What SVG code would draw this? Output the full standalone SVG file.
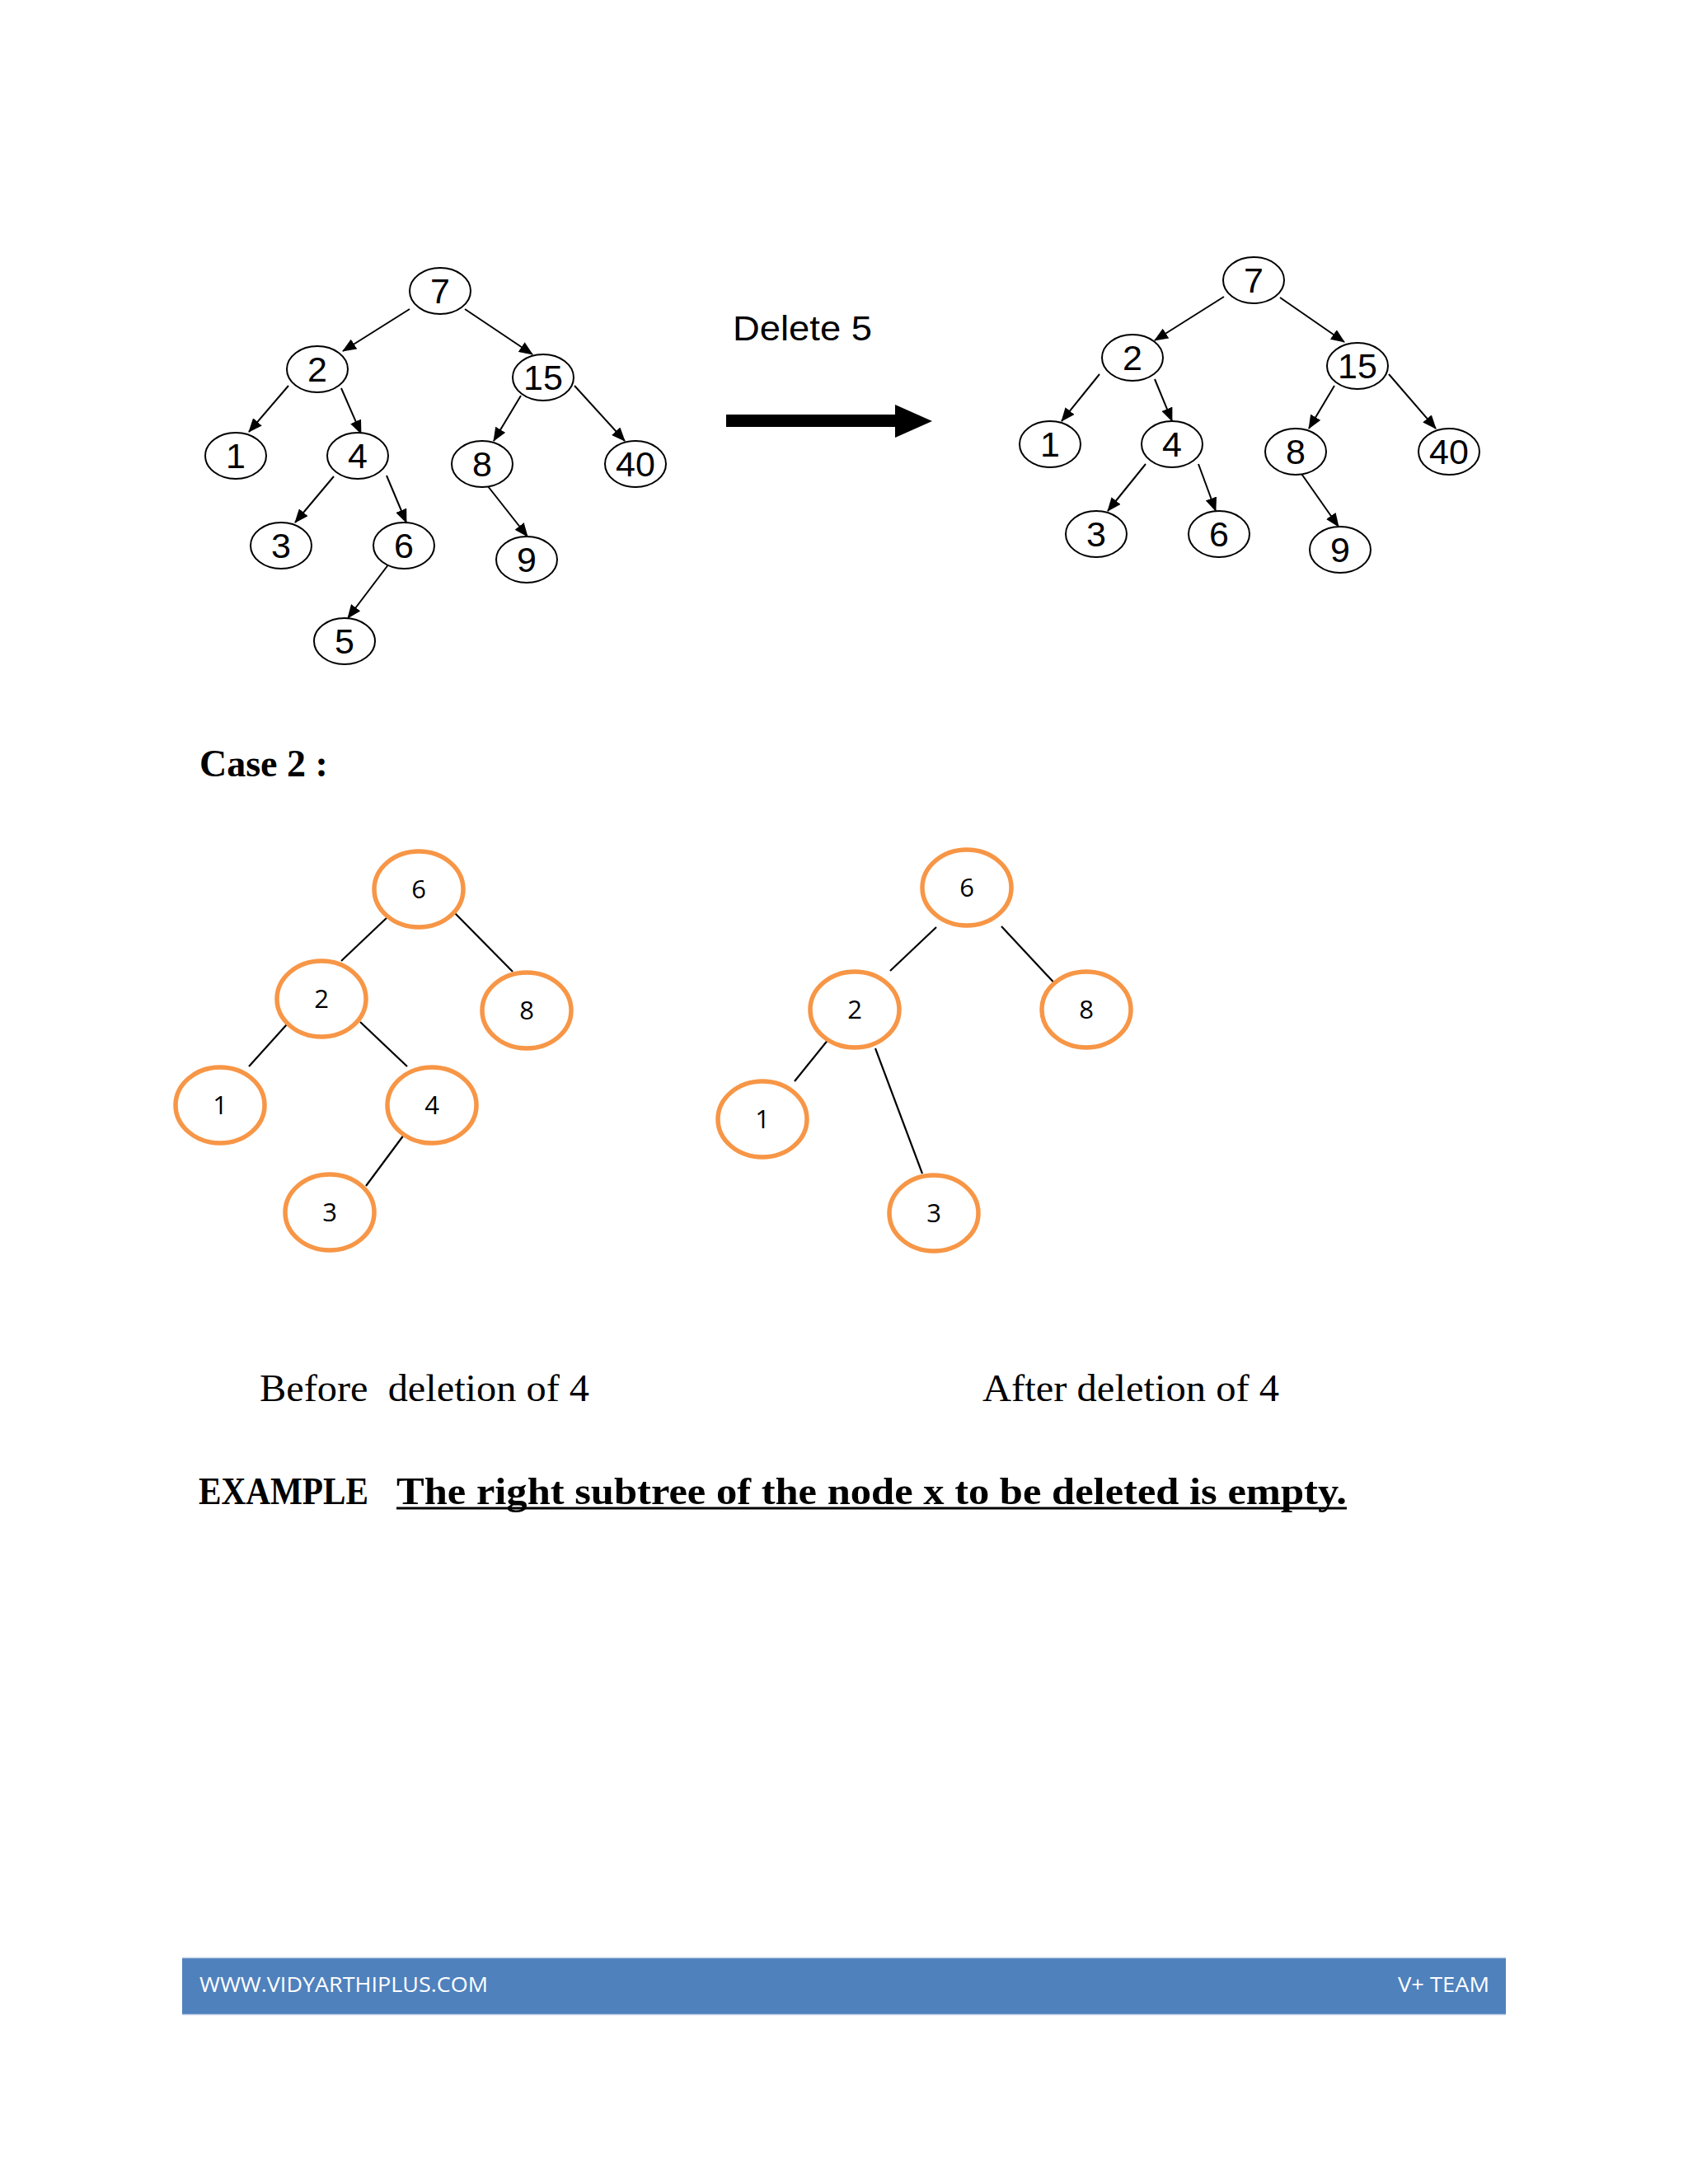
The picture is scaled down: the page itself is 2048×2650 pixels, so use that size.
<svg xmlns="http://www.w3.org/2000/svg" width="2048" height="2650" viewBox="0 0 2048 2650">
<style>
.bn{fill:#fff;stroke:#000;stroke-width:2}
.bt{font-family:"Liberation Sans",Arial,sans-serif;font-size:43px;fill:#000;text-anchor:middle}
.on{fill:#fff;stroke:#F79646;stroke-width:5.5}
.ot{font-family:"Open Sans","Liberation Sans",sans-serif;font-size:31px;fill:#000;text-anchor:middle}
.ar{stroke:#000;stroke-width:2;fill:none;marker-end:url(#ah)}
.ln{stroke:#000;stroke-width:2.2;fill:none}
.serif{font-family:"Liberation Serif","Times New Roman",serif;fill:#000}
</style>
<defs>
<marker id="ah" markerUnits="userSpaceOnUse" markerWidth="18" markerHeight="14" refX="16" refY="7" orient="auto">
<path d="M0,0 L17,7 L0,14 z" fill="#000"/>
</marker>
</defs>
<rect width="2048" height="2650" fill="#fff"/>

<g id="connectors">
<!-- left top tree -->
<line class="ar" x1="497" y1="375" x2="416" y2="426"/>
<line class="ar" x1="564" y1="375" x2="646" y2="430"/>
<line class="ar" x1="350" y1="468" x2="302" y2="524"/>
<line class="ar" x1="414" y1="471" x2="438" y2="526"/>
<line class="ar" x1="632" y1="480" x2="599" y2="535"/>
<line class="ar" x1="697" y1="468" x2="758" y2="535"/>
<line class="ar" x1="405" y1="578" x2="358" y2="634"/>
<line class="ar" x1="469" y1="577" x2="493" y2="634"/>
<line class="ar" x1="588" y1="585" x2="640" y2="651"/>
<line class="ar" x1="472" y1="684" x2="422" y2="750"/>
<!-- right top tree -->
<line class="ar" x1="1485" y1="360" x2="1401" y2="413"/>
<line class="ar" x1="1553" y1="361" x2="1631" y2="415"/>
<line class="ar" x1="1334" y1="454" x2="1288" y2="511"/>
<line class="ar" x1="1401" y1="460" x2="1422" y2="511"/>
<line class="ar" x1="1619" y1="468" x2="1588" y2="520"/>
<line class="ar" x1="1685" y1="454" x2="1742" y2="520"/>
<line class="ar" x1="1390" y1="563" x2="1344" y2="620"/>
<line class="ar" x1="1454" y1="563" x2="1475" y2="620"/>
<line class="ar" x1="1577" y1="572" x2="1624" y2="639"/>
<!-- big arrow -->
<path d="M881,503 L1086,503 L1086,491 L1131,511 L1086,531 L1086,518 L881,518 z" fill="#000"/>
<!-- orange left -->
<line class="ln" x1="472" y1="1111" x2="414" y2="1166"/>
<line class="ln" x1="548" y1="1104" x2="622" y2="1179"/>
<line class="ln" x1="348" y1="1243" x2="302" y2="1294"/>
<line class="ln" x1="437" y1="1240" x2="494" y2="1294"/>
<line class="ln" x1="493" y1="1373" x2="444" y2="1439"/>
<!-- orange right -->
<line class="ln" x1="1136" y1="1125" x2="1080" y2="1178"/>
<line class="ln" x1="1215" y1="1124" x2="1285" y2="1199"/>
<line class="ln" x1="1006" y1="1260" x2="964" y2="1312"/>
<line class="ln" x1="1062" y1="1272" x2="1119" y2="1424"/>
</g>

<!-- Top left tree nodes -->
<g id="L7"><ellipse class="bn" cx="534" cy="353" rx="37" ry="28"/><text class="bt" x="534" y="368">7</text></g>
<g id="L2"><ellipse class="bn" cx="385" cy="448" rx="37" ry="28"/><text class="bt" x="385" y="463">2</text></g>
<g id="L15"><ellipse class="bn" cx="659" cy="458" rx="37" ry="28"/><text class="bt" x="659" y="473">15</text></g>
<g id="L1"><ellipse class="bn" cx="286" cy="553" rx="37" ry="28"/><text class="bt" x="286" y="568">1</text></g>
<g id="L4"><ellipse class="bn" cx="434" cy="553" rx="37" ry="28"/><text class="bt" x="434" y="568">4</text></g>
<g id="L8"><ellipse class="bn" cx="585" cy="563" rx="37" ry="28"/><text class="bt" x="585" y="578">8</text></g>
<g id="L40"><ellipse class="bn" cx="771" cy="563" rx="37" ry="28"/><text class="bt" x="771" y="578">40</text></g>
<g id="L3"><ellipse class="bn" cx="341" cy="662" rx="37" ry="28"/><text class="bt" x="341" y="677">3</text></g>
<g id="L6"><ellipse class="bn" cx="490" cy="662" rx="37" ry="28"/><text class="bt" x="490" y="677">6</text></g>
<g id="L9"><ellipse class="bn" cx="639" cy="679" rx="37" ry="28"/><text class="bt" x="639" y="694">9</text></g>
<g id="L5"><ellipse class="bn" cx="418" cy="778" rx="37" ry="28"/><text class="bt" x="418" y="793">5</text></g>

<text id="delete5" x="889" y="413" font-family="Liberation Sans,Arial,sans-serif" font-size="42" fill="#000" textLength="169" lengthAdjust="spacingAndGlyphs">Delete 5</text>

<!-- Top right tree nodes -->
<g id="R7"><ellipse class="bn" cx="1521" cy="340" rx="37" ry="28"/><text class="bt" x="1521" y="355">7</text></g>
<g id="R2"><ellipse class="bn" cx="1374" cy="434" rx="37" ry="28"/><text class="bt" x="1374" y="449">2</text></g>
<g id="R15"><ellipse class="bn" cx="1647" cy="444" rx="37" ry="28"/><text class="bt" x="1647" y="459">15</text></g>
<g id="R1"><ellipse class="bn" cx="1274" cy="539" rx="37" ry="28"/><text class="bt" x="1274" y="554">1</text></g>
<g id="R4"><ellipse class="bn" cx="1422" cy="539" rx="37" ry="28"/><text class="bt" x="1422" y="554">4</text></g>
<g id="R8"><ellipse class="bn" cx="1572" cy="548" rx="37" ry="28"/><text class="bt" x="1572" y="563">8</text></g>
<g id="R40"><ellipse class="bn" cx="1758" cy="548" rx="37" ry="28"/><text class="bt" x="1758" y="563">40</text></g>
<g id="R3"><ellipse class="bn" cx="1330" cy="648" rx="37" ry="28"/><text class="bt" x="1330" y="663">3</text></g>
<g id="R6"><ellipse class="bn" cx="1479" cy="648" rx="37" ry="28"/><text class="bt" x="1479" y="663">6</text></g>
<g id="R9"><ellipse class="bn" cx="1626" cy="667" rx="37" ry="28"/><text class="bt" x="1626" y="682">9</text></g>

<text id="case2" class="serif" x="242" y="942" font-size="46" font-weight="bold">Case 2 :</text>

<!-- Orange left tree -->
<g id="OL6"><ellipse class="on" cx="508" cy="1079" rx="54" ry="46"/><text class="ot" x="508" y="1090">6</text></g>
<g id="OL2"><ellipse class="on" cx="390" cy="1212" rx="54" ry="46"/><text class="ot" x="390" y="1223">2</text></g>
<g id="OL8"><ellipse class="on" cx="639" cy="1226" rx="54" ry="46"/><text class="ot" x="639" y="1237">8</text></g>
<g id="OL1"><ellipse class="on" cx="267" cy="1341" rx="54" ry="46"/><text class="ot" x="267" y="1352">1</text></g>
<g id="OL4"><ellipse class="on" cx="524" cy="1341" rx="54" ry="46"/><text class="ot" x="524" y="1352">4</text></g>
<g id="OL3"><ellipse class="on" cx="400" cy="1471" rx="54" ry="46"/><text class="ot" x="400" y="1482">3</text></g>

<!-- Orange right tree -->
<g id="OR6"><ellipse class="on" cx="1173" cy="1077" rx="54" ry="46"/><text class="ot" x="1173" y="1088">6</text></g>
<g id="OR2"><ellipse class="on" cx="1037" cy="1225" rx="54" ry="46"/><text class="ot" x="1037" y="1236">2</text></g>
<g id="OR8"><ellipse class="on" cx="1318" cy="1225" rx="54" ry="46"/><text class="ot" x="1318" y="1236">8</text></g>
<g id="OR1"><ellipse class="on" cx="925" cy="1358" rx="54" ry="46"/><text class="ot" x="925" y="1369">1</text></g>
<g id="OR3"><ellipse class="on" cx="1133" cy="1472" rx="54" ry="46"/><text class="ot" x="1133" y="1483">3</text></g>

<text id="before" class="serif" x="315" y="1700" font-size="46" xml:space="preserve" textLength="400" lengthAdjust="spacingAndGlyphs">Before  deletion of 4</text>
<text id="after" class="serif" x="1192" y="1700" font-size="46" textLength="360" lengthAdjust="spacingAndGlyphs">After deletion of 4</text>

<text id="example" class="serif" x="241" y="1825" font-size="46" font-weight="bold" textLength="206" lengthAdjust="spacingAndGlyphs">EXAMPLE</text>
<text id="rule" class="serif" x="481" y="1825" font-size="46" font-weight="bold" textLength="1153" lengthAdjust="spacingAndGlyphs">The right subtree of the node x to be deleted is empty.</text>
<line x1="481" y1="1830" x2="1634" y2="1830" stroke="#000" stroke-width="3"/>

<g id="footer">
<rect x="221" y="2376" width="1606" height="68" fill="#4F81BD"/>
<line x1="221" y1="2375.5" x2="1827" y2="2375.5" stroke="#c6d4e8" stroke-width="1.5"/>
<line x1="221" y1="2444.5" x2="1827" y2="2444.5" stroke="#c6d4e8" stroke-width="1.5"/>
<text x="242" y="2417" font-family="Open Sans,Liberation Sans,sans-serif" font-size="25" fill="#fff" textLength="350" lengthAdjust="spacingAndGlyphs">WWW.VIDYARTHIPLUS.COM</text>
<text x="1696" y="2417" font-family="Open Sans,Liberation Sans,sans-serif" font-size="25" fill="#fff" textLength="111" lengthAdjust="spacingAndGlyphs">V+ TEAM</text>
</g>
</svg>
